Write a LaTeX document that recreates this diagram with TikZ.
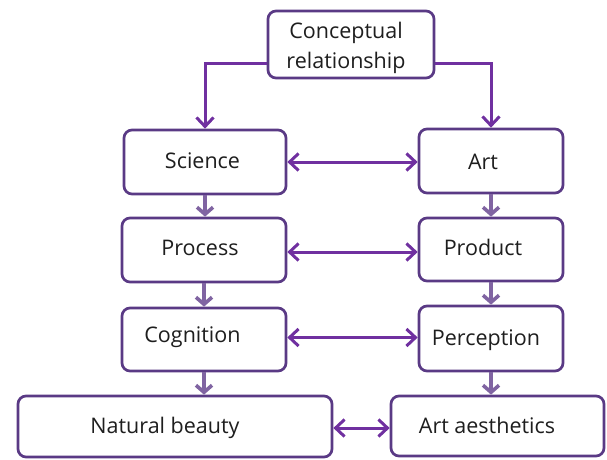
\documentclass[tikz,border=0pt]{standalone}
\usepackage{fontspec}
\setmainfont{Open Sans}
\usetikzlibrary{arrows.meta,calc}
\definecolor{boxc}{HTML}{5A3A85}
\definecolor{arrc}{HTML}{7030A0}
\definecolor{varc}{HTML}{8064A2}
\definecolor{txtc}{HTML}{1E1E1E}
\tikzset{
  box/.style={draw=boxc, line width=2.7pt, rounded corners=8pt, fill=white, inner sep=0pt},
  lbl/.style={anchor=base, text=txtc, inner sep=0pt, font=\fontsize{21.5}{25}\selectfont},
  tip/.style={Straight Barb[length=9pt,width=17pt]},
  conn/.style={draw=arrc, line width=3pt, -{Straight Barb[length=9pt,width=17pt]}},
  dconn/.style={draw=arrc, line width=3pt, {Straight Barb[length=9pt,width=17pt]}-{Straight Barb[length=9pt,width=17pt]}},
  vconn/.style={draw=varc, line width=3.6pt, -{Straight Barb[length=7pt,width=16pt]}}
}
\begin{document}
\begin{tikzpicture}[x=1pt,y=-1pt]
\useasboundingbox (0,0) rectangle (607,459);
% boxes
\node[box, minimum width=166pt, minimum height=67pt] (concept) at (351,44.5) {};
\node[box, minimum width=162pt, minimum height=64pt] (science) at (205,162) {};
\node[box, minimum width=144pt, minimum height=64pt] (art) at (491,161) {};
\node[box, minimum width=164pt, minimum height=64pt] (process) at (204,250) {};
\node[box, minimum width=144pt, minimum height=63pt] (product) at (491,249.5) {};
\node[box, minimum width=164pt, minimum height=63pt] (cognition) at (204,339.5) {};
\node[box, minimum width=144pt, minimum height=65pt] (perception) at (491,338.5) {};
\node[box, minimum width=314pt, minimum height=61pt] (natural) at (175,426.5) {};
\node[box, minimum width=213pt, minimum height=60pt] (aesth) at (497.5,426) {};
% labels
\node[lbl] (concept-t1) at (346,38) {Conceptual};
\node[lbl] (concept-t2) at (346,68) {relationship};
\node[lbl] (science-t) at (202.5,168) {Science};
\node[lbl] (art-t) at (483,169) {Art};
\node[lbl] (process-t) at (200,255) {Process};
\node[lbl] (product-t) at (483,255) {Product};
\node[lbl] (cognition-t) at (192.5,342) {Cognition};
\node[lbl] (perception-t) at (486,345) {Perception};
\node[lbl] (natural-t) at (165,433) {Natural beauty};
\node[lbl] (aesth-t) at (487,433) {Art aesthetics};
% top connectors
\draw[conn] ([yshift=-18.5pt]concept.west) -| (science.north);
\draw[conn] ([yshift=-18.5pt]concept.east) -| (art.north);
% vertical arrows
\draw[vconn] (science.south) -- (science.south |- process.north);
\draw[vconn] (process.south) -- (process.south |- cognition.north);
\draw[vconn] (cognition.south) -- (cognition.south |- natural.north);
\draw[vconn] (art.south) -- (art.south |- product.north);
\draw[vconn] (product.south) -- (product.south |- perception.north);
\draw[vconn] (perception.south) -- (perception.south |- aesth.north);
% horizontal double arrows
\draw[dconn] (science.east) -- (science.east -| art.west);
\draw[dconn] ([yshift=-2pt]process.east) -- ([yshift=-2pt]process.east -| product.west);
\draw[dconn] ([yshift=2pt]cognition.east) -- ([yshift=2pt]cognition.east -| perception.west);
\draw[dconn] ([yshift=-1.5pt]natural.east) -- ([yshift=-1.5pt]natural.east -| aesth.west);
\end{tikzpicture}
\end{document}
